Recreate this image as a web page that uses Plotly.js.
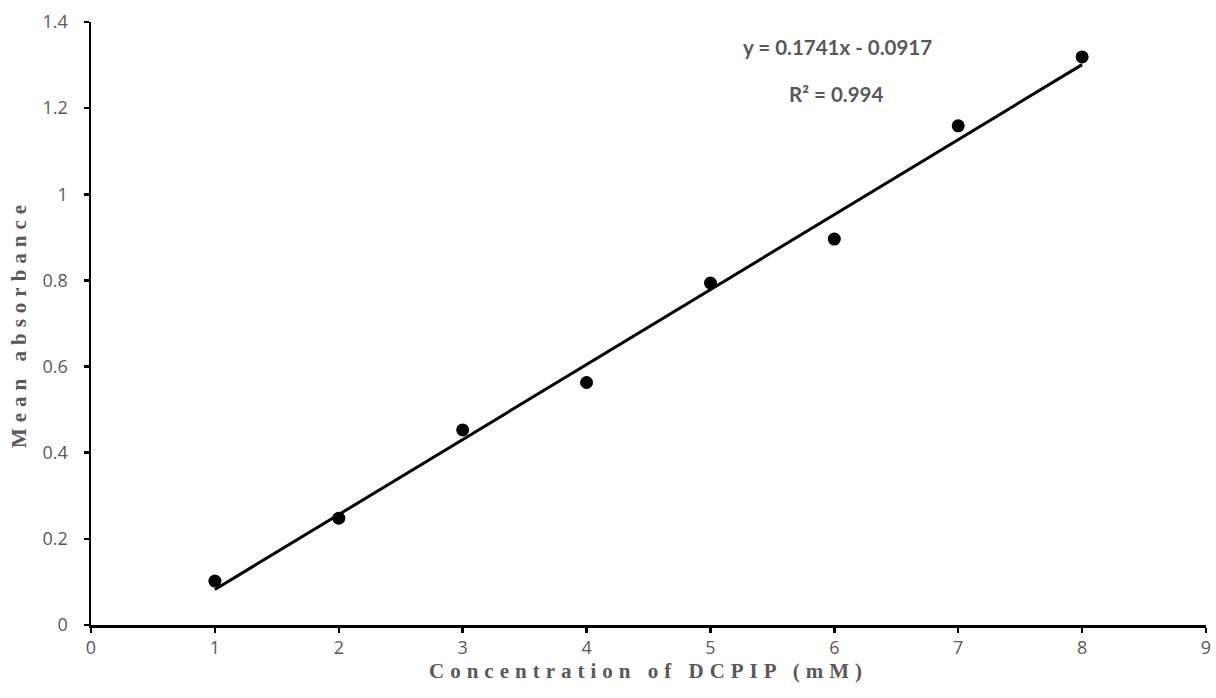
<!DOCTYPE html>
<html>
<head>
<meta charset="utf-8">
<script src="https://cdn.plot.ly/plotly-3.0.1.min.js"></script>
<style>
html,body{margin:0;padding:0;background:#fff;}
#chart{width:1216px;height:698px;}
.xtitle,.ytitle{letter-spacing:6px;}
</style>
</head>
<body>
<div id="chart"></div>
<script>
const concentration = [1, 2, 3, 4, 5, 6, 7, 8];
const meanAbsorbance = [0.102, 0.248, 0.453, 0.563, 0.794, 0.896, 1.159, 1.319];
const fitSlope = 0.1741;
const fitIntercept = -0.0917;
const fitR2 = 0.994;
const xTicks = [0, 1, 2, 3, 4, 5, 6, 7, 8, 9];
const yTicks = [0, 0.2, 0.4, 0.6, 0.8, 1, 1.2, 1.4];

const fitX = [concentration[0], concentration[concentration.length - 1]];
const fitY = fitX.map(x => fitSlope * x + fitIntercept);

const grey = '#595959';

const traces = [
  {
    x: fitX, y: fitY, mode: 'lines', type: 'scatter',
    line: {color: '#000', width: 3}, hoverinfo: 'skip', showlegend: false
  },
  {
    x: concentration, y: meanAbsorbance, mode: 'markers', type: 'scatter',
    marker: {color: '#000', size: 13}, showlegend: false
  }
];

const layout = {
  width: 1216, height: 698,
  margin: {l: 91, r: 10, t: 22, b: 73},
  paper_bgcolor: '#fff', plot_bgcolor: '#fff',
  showlegend: false,
  xaxis: {
    range: [0, 9], tickmode: 'array', tickvals: xTicks, ticktext: xTicks.map(String),
    showgrid: false, zeroline: false, showline: true, linecolor: '#000', linewidth: 2.5,
    ticks: 'outside', ticklen: 5, tickwidth: 2.5, tickcolor: '#000',
    tickfont: {family: 'Open Sans', size: 18, color: grey},
    title: {text: 'Concentration of DCPIP (mM)', standoff: 0,
      font: {family: 'Liberation Serif, Times New Roman, serif', size: 21, color: grey, weight: 'bold'}}
  },
  yaxis: {
    range: [0, 1.4], tickmode: 'array', tickvals: yTicks, ticktext: yTicks.map(String),
    showgrid: false, zeroline: false, showline: true, linecolor: '#000', linewidth: 2.5,
    ticks: 'outside', ticklen: 5, tickwidth: 2.5, tickcolor: '#000',
    ticklabelstandoff: 12,
    tickfont: {family: 'Open Sans', size: 18, color: grey},
    title: {text: 'Mean absorbance', standoff: 10,
      font: {family: 'Liberation Serif, Times New Roman, serif', size: 21, color: grey, weight: 'bold'}}
  },
  annotations: [
    {x: 837, y: 47, text: '<b>y = ' + fitSlope + 'x - ' + Math.abs(fitIntercept) + '</b>'},
    {x: 836, y: 94, text: '<b>R² = ' + fitR2 + '</b>'}
  ]
};
// convert pixel positions of annotations to paper coordinates
const pw = layout.width - layout.margin.l - layout.margin.r;
const ph = layout.height - layout.margin.t - layout.margin.b;
layout.annotations.forEach(a => {
  a.x = (a.x - layout.margin.l) / pw;
  a.y = 1 - (a.y - layout.margin.t) / ph;
  a.xref = 'paper'; a.yref = 'paper';
  a.xanchor = 'center'; a.yanchor = 'middle';
  a.showarrow = false;
  a.font = {family: 'Lato, sans-serif', size: 20.5, color: grey};
});

Plotly.newPlot('chart', traces, layout, {displayModeBar: false, staticPlot: true});
</script>
</body>
</html>
